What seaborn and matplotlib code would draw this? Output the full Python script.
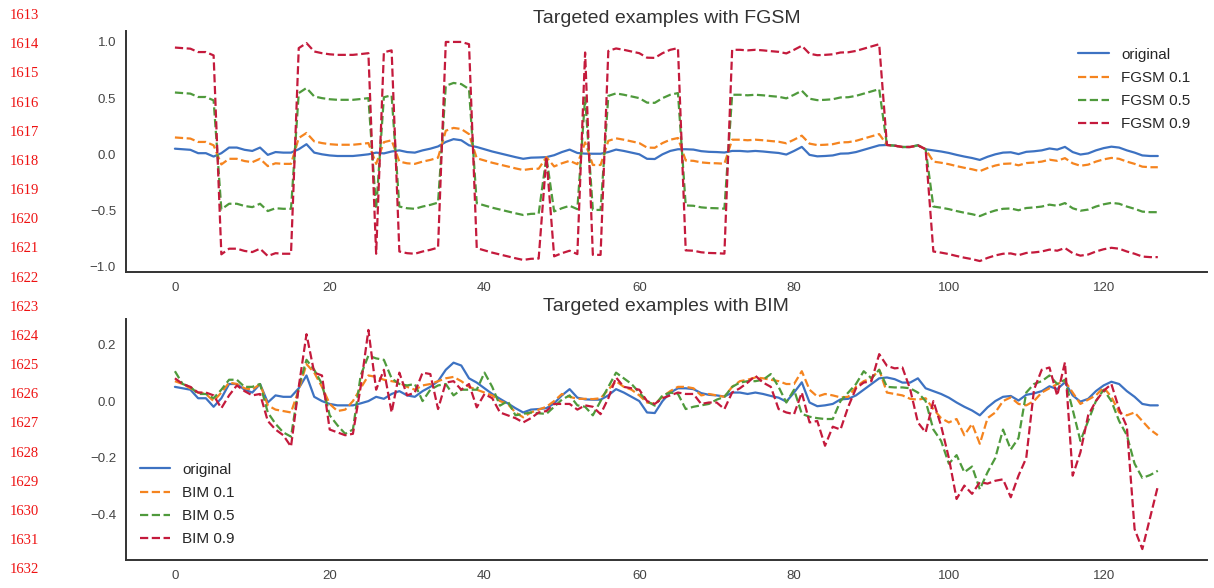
import matplotlib
matplotlib.use("Agg")
import matplotlib.pyplot as plt
import numpy as np
import pandas as pd
import seaborn as sns

# ---- data -----------------------------------------------------------------
steps = list(range(128))

original = [
    0.050, 0.045, 0.040, 0.010, 0.010, -0.020, 0.010, 0.060, 0.060, 0.040,
    0.030, 0.060, -0.005, 0.020, 0.015, 0.015, 0.045, 0.090, 0.015, 0.000,
    -0.010, -0.015, -0.015, -0.015, -0.008, 0.000, 0.015, 0.008, 0.025, 0.035,
    0.020, 0.015, 0.035, 0.050, 0.070, 0.110, 0.135, 0.125, 0.080, 0.065,
    0.045, 0.025, 0.008, -0.008, -0.025, -0.040, -0.030, -0.028, -0.025, -0.008,
    0.020, 0.042, 0.012, 0.006, 0.005, 0.005, 0.020, 0.042, 0.030, 0.015,
    0.000, -0.040, -0.042, 0.000, 0.030, 0.045, 0.045, 0.042, 0.028, 0.022,
    0.020, 0.016, 0.030, 0.030, 0.025, 0.030, 0.025, 0.018, 0.012, -0.002,
    0.030, 0.066, -0.005, -0.018, -0.015, -0.010, 0.006, 0.008, 0.020, 0.040,
    0.060, 0.080, 0.083, 0.077, 0.065, 0.065, 0.080, 0.045, 0.035, 0.025,
    0.012, -0.005, -0.020, -0.033, -0.050, -0.022, 0.000, 0.015, 0.018, 0.002,
    0.022, 0.027, 0.035, 0.052, 0.042, 0.066, 0.020, -0.002, 0.008, 0.035,
    0.055, 0.068, 0.060, 0.035, 0.015, -0.010, -0.015, -0.015,
]

fgsm_01 = [
    0.150, 0.145, 0.140, 0.110, 0.110, 0.080, -0.090, -0.040, -0.040, -0.060,
    -0.070, -0.040, -0.105, -0.080, -0.085, -0.085, 0.145, 0.190, 0.115, 0.100,
    0.090, 0.085, 0.085, 0.085, 0.092, 0.100, -0.085, 0.108, 0.125, -0.065,
    -0.080, -0.085, -0.065, -0.050, -0.030, 0.210, 0.235, 0.225, 0.180, -0.035,
    -0.055, -0.075, -0.092, -0.108, -0.125, -0.140, -0.130, -0.128, -0.025, -0.108,
    -0.080, -0.058, -0.088, 0.106, -0.095, -0.095, 0.120, 0.142, 0.130, 0.115,
    0.100, 0.060, 0.058, 0.100, 0.130, 0.145, -0.055, -0.058, -0.072, -0.078,
    -0.080, -0.084, 0.130, 0.130, 0.125, 0.130, 0.125, 0.118, 0.112, 0.098,
    0.130, 0.166, 0.095, 0.082, 0.085, 0.090, 0.106, 0.108, 0.120, 0.140,
    0.160, 0.180, 0.083, 0.077, 0.065, 0.065, 0.080, 0.045, -0.065, -0.075,
    -0.088, -0.105, -0.120, -0.133, -0.150, -0.122, -0.100, -0.085, -0.082, -0.098,
    -0.078, -0.073, -0.065, -0.048, -0.058, -0.034, -0.080, -0.102, -0.092, -0.065,
    -0.045, -0.032, -0.040, -0.065, -0.085, -0.110, -0.115, -0.115,
]

fgsm_05 = [
    0.550, 0.545, 0.540, 0.510, 0.510, 0.480, -0.490, -0.440, -0.440, -0.460,
    -0.470, -0.440, -0.505, -0.480, -0.485, -0.485, 0.545, 0.590, 0.515, 0.500,
    0.490, 0.485, 0.485, 0.485, 0.492, 0.500, -0.485, 0.508, 0.525, -0.465,
    -0.480, -0.485, -0.465, -0.450, -0.430, 0.610, 0.635, 0.625, 0.580, -0.435,
    -0.455, -0.475, -0.492, -0.508, -0.525, -0.540, -0.530, -0.528, -0.025, -0.508,
    -0.480, -0.458, -0.488, 0.506, -0.495, -0.495, 0.520, 0.542, 0.530, 0.515,
    0.500, 0.460, 0.458, 0.500, 0.530, 0.545, -0.455, -0.458, -0.472, -0.478,
    -0.480, -0.484, 0.530, 0.530, 0.525, 0.530, 0.525, 0.518, 0.512, 0.498,
    0.530, 0.566, 0.495, 0.482, 0.485, 0.490, 0.506, 0.508, 0.520, 0.540,
    0.560, 0.580, 0.083, 0.077, 0.065, 0.065, 0.080, 0.045, -0.465, -0.475,
    -0.488, -0.505, -0.520, -0.533, -0.550, -0.522, -0.500, -0.485, -0.482, -0.498,
    -0.478, -0.473, -0.465, -0.448, -0.458, -0.434, -0.480, -0.502, -0.492, -0.465,
    -0.445, -0.432, -0.440, -0.465, -0.485, -0.510, -0.515, -0.515,
]

fgsm_09 = [
    0.950, 0.945, 0.940, 0.910, 0.910, 0.880, -0.890, -0.840, -0.840, -0.860,
    -0.870, -0.840, -0.905, -0.880, -0.885, -0.885, 0.945, 0.990, 0.915, 0.900,
    0.890, 0.885, 0.885, 0.885, 0.892, 0.900, -0.885, 0.908, 0.925, -0.865,
    -0.880, -0.885, -0.865, -0.850, -0.830, 1.000, 1.000, 1.000, 0.980, -0.835,
    -0.855, -0.875, -0.892, -0.908, -0.925, -0.940, -0.930, -0.928, -0.025, -0.908,
    -0.880, -0.858, -0.888, 0.906, -0.895, -0.895, 0.920, 0.942, 0.930, 0.915,
    0.900, 0.860, 0.858, 0.900, 0.930, 0.945, -0.855, -0.858, -0.872, -0.878,
    -0.880, -0.884, 0.930, 0.930, 0.925, 0.930, 0.925, 0.918, 0.912, 0.898,
    0.930, 0.966, 0.895, 0.882, 0.885, 0.890, 0.906, 0.908, 0.920, 0.940,
    0.960, 0.980, 0.083, 0.077, 0.065, 0.065, 0.080, 0.045, -0.865, -0.875,
    -0.888, -0.905, -0.920, -0.933, -0.950, -0.922, -0.900, -0.885, -0.882, -0.898,
    -0.878, -0.873, -0.865, -0.848, -0.858, -0.834, -0.880, -0.902, -0.892, -0.865,
    -0.845, -0.832, -0.840, -0.865, -0.885, -0.910, -0.915, -0.915,
]

bim_01 = [
    0.070, 0.060, 0.045, 0.030, 0.025, 0.000, 0.030, 0.065, 0.060, 0.045,
    0.040, 0.060, -0.015, -0.030, -0.035, -0.040, 0.040, 0.130, 0.100, 0.050,
    -0.010, -0.035, -0.030, 0.000, 0.045, 0.090, 0.085, 0.075, 0.070, 0.065,
    0.050, 0.040, 0.055, 0.060, 0.070, 0.080, 0.085, 0.070, 0.050, 0.040,
    0.030, 0.020, 0.000, -0.010, -0.040, -0.057, -0.040, -0.030, -0.020, 0.000,
    0.025, 0.015, 0.008, 0.008, 0.007, 0.010, 0.040, 0.070, 0.050, 0.040,
    0.020, -0.005, -0.010, 0.015, 0.035, 0.050, 0.050, 0.045, 0.020, 0.025,
    0.020, 0.015, 0.050, 0.070, 0.075, 0.083, 0.080, 0.075, 0.070, 0.060,
    0.060, 0.105, 0.040, 0.016, 0.025, 0.020, 0.013, 0.015, 0.050, 0.070,
    0.080, 0.110, 0.030, 0.025, 0.020, 0.008, 0.005, 0.010, -0.028, -0.060,
    -0.075, -0.063, -0.120, -0.080, -0.150, -0.060, -0.040, 0.000, 0.013, -0.010,
    -0.015, 0.000, 0.030, 0.045, 0.060, 0.070, 0.030, -0.010, 0.005, 0.020,
    0.048, 0.015, -0.040, -0.050, -0.040, -0.070, -0.100, -0.120,
]

bim_05 = [
    0.105, 0.060, 0.050, 0.025, 0.025, 0.010, 0.040, 0.075, 0.075, 0.050,
    0.050, 0.060, -0.040, -0.080, -0.110, -0.125, 0.050, 0.145, 0.110, 0.060,
    -0.050, -0.085, -0.115, -0.100, 0.090, 0.160, 0.150, 0.145, 0.080, 0.060,
    0.055, 0.060, 0.000, 0.040, 0.055, 0.060, 0.020, 0.040, 0.040, 0.040,
    0.100, 0.050, -0.016, 0.000, -0.050, -0.045, -0.040, -0.043, -0.045, -0.020,
    0.005, 0.020, -0.015, -0.020, -0.050, 0.000, 0.050, 0.100, 0.080, 0.060,
    0.030, 0.000, -0.016, 0.020, 0.030, 0.025, -0.028, -0.020, -0.015, -0.010,
    0.005, 0.015, 0.050, 0.065, 0.070, 0.070, 0.075, 0.095, 0.050, -0.005,
    0.040, -0.045, -0.055, -0.060, -0.063, -0.063, 0.000, 0.030, 0.060, 0.105,
    0.080, 0.110, 0.050, 0.048, 0.048, 0.045, 0.030, 0.000, -0.100, -0.140,
    -0.220, -0.190, -0.250, -0.230, -0.310, -0.250, -0.200, -0.100, -0.170, -0.130,
    0.030, 0.060, 0.070, 0.090, 0.060, 0.075, -0.030, -0.140, -0.070, 0.000,
    0.040, 0.000, -0.070, -0.120, -0.220, -0.270, -0.260, -0.245,
]

bim_09 = [
    0.080, 0.060, 0.050, 0.030, 0.030, 0.020, -0.025, 0.020, 0.055, 0.035,
    0.020, 0.025, -0.070, -0.100, -0.120, -0.160, 0.050, 0.235, 0.100, 0.090,
    -0.100, -0.110, -0.120, -0.115, 0.050, 0.250, 0.040, 0.110, -0.040, 0.100,
    0.020, 0.030, 0.100, 0.095, -0.028, 0.065, 0.070, 0.040, 0.060, -0.022,
    0.025, 0.010, -0.040, -0.050, -0.060, -0.075, -0.060, -0.040, -0.035, -0.010,
    -0.010, -0.010, -0.030, -0.015, -0.020, -0.046, 0.010, 0.083, 0.050, 0.045,
    0.040, 0.000, -0.010, 0.010, 0.020, 0.030, 0.025, 0.025, -0.010, -0.005,
    -0.005, -0.028, 0.030, 0.045, 0.065, 0.089, 0.065, 0.050, -0.028, -0.040,
    -0.046, 0.030, -0.075, -0.070, -0.157, -0.090, -0.100, -0.020, 0.045, 0.065,
    0.070, 0.165, 0.124, 0.115, 0.118, 0.042, -0.075, -0.110, 0.000, -0.087,
    -0.200, -0.344, -0.297, -0.326, -0.285, -0.290, -0.280, -0.275, -0.338, -0.262,
    -0.200, 0.040, 0.110, 0.118, 0.019, 0.136, -0.262, -0.180, -0.050, 0.000,
    0.036, 0.060, -0.028, -0.090, -0.450, -0.520, -0.410, -0.300,
]

fgsm_labels = ["original", "FGSM 0.1", "FGSM 0.5", "FGSM 0.9"]
bim_labels = ["original", "BIM 0.1", "BIM 0.5", "BIM 0.9"]
x_ticks = [0, 20, 40, 60, 80, 100, 120]
fgsm_yticks = [-1.0, -0.5, 0.0, 0.5, 1.0]
bim_yticks = [-0.4, -0.2, 0.0, 0.2]
line_numbers = list(range(1613, 1633))

# ---- style ----------------------------------------------------------------
sns.set_theme(style="white")
plt.rcParams["font.family"] = ["Liberation Sans", "DejaVu Sans"]
plt.rcParams["axes.edgecolor"] = "#333333"
plt.rcParams["axes.linewidth"] = 1.4

colors = ["#3d72c2", "#f5841f", "#4f9a3c", "#c41a3c"]
styles = ["-", "--", "--", "--"]

fig = plt.figure(figsize=(12.14, 5.88), dpi=100)
ax_top = fig.add_axes([0.1036, 0.5374, 0.8906, 0.4099])
ax_bot = fig.add_axes([0.1036, 0.0476, 0.8906, 0.4099])


def draw_panel(ax, series, labels, title, yticks, legend_loc, border_pad):
    frame = pd.DataFrame({"step": steps})
    for name, vals in zip(labels, series):
        frame[name] = vals
    for name, col, ls in zip(labels, colors, styles):
        sns.lineplot(data=frame, x="step", y=name, ax=ax, color=col,
                     linestyle=ls, linewidth=1.6, label=name)
    ax.set_title(title, fontsize=14, color="#333333", pad=6)
    ax.set_xlabel("")
    ax.set_ylabel("")
    ax.set_xticks(x_ticks)
    ax.set_yticks(yticks)
    ax.tick_params(axis="both", labelsize=9.5, colors="#444444", length=0, pad=7)
    ax.margins(x=0.05, y=0.05)
    sns.despine(ax=ax)
    ax.legend(loc=legend_loc, frameon=False, fontsize=11,
              handlelength=2.0, labelspacing=0.6, borderaxespad=border_pad)


draw_panel(ax_top, [original, fgsm_01, fgsm_05, fgsm_09], fgsm_labels,
           "Targeted examples with FGSM", fgsm_yticks, "upper right", 0.7)
draw_panel(ax_bot, [original, bim_01, bim_05, bim_09], bim_labels,
           "Targeted examples with BIM", bim_yticks, "lower left", 0.5)

# page line numbers in the left margin
for k, num in enumerate(line_numbers):
    y_px = 15.5 + k * 29.17
    fig.text(24 / 1214, 1 - y_px / 588, str(num), color="#ee1111",
             fontsize=10.5, family=["Liberation Serif", "DejaVu Serif"],
             ha="center", va="center")

fig.savefig("out.png", dpi=100)
